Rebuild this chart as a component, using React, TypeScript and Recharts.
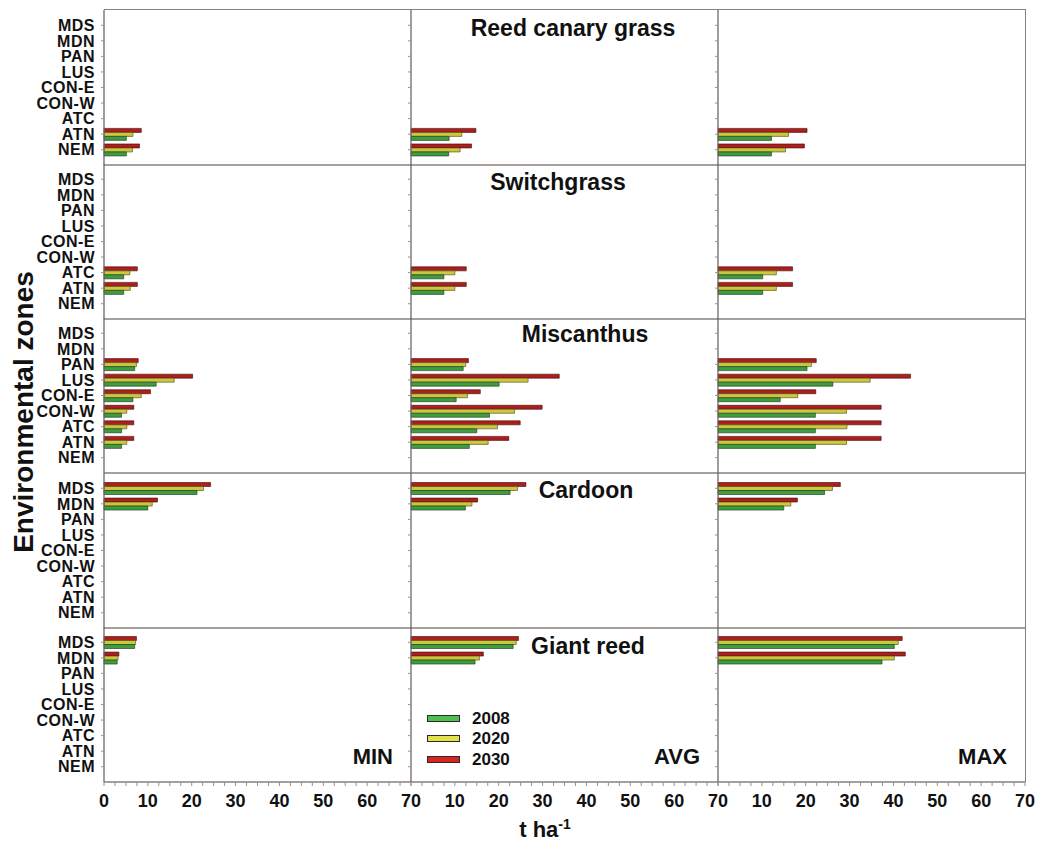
import React from 'react';
import { BarChart, Bar, XAxis, YAxis } from 'recharts';

// ---------- categories & labels ----------
const zones = ['MDS', 'MDN', 'PAN', 'LUS', 'CON-E', 'CON-W', 'ATC', 'ATN', 'NEM'];
const years = ['2008', '2020', '2030'];
const statLabels = ['MIN', 'AVG', 'MAX'];
const cropNames = ['Reed canary grass', 'Switchgrass', 'Miscanthus', 'Cardoon', 'Giant reed'];
const xTicks = [0, 2.5, 5, 7.5, 10, 12.5, 15, 17.5, 20, 22.5, 25, 27.5, 30, 32.5, 35, 37.5, 40, 42.5, 45, 47.5, 50, 52.5, 55, 57.5, 60, 62.5, 65, 67.5, 70];
const xLabelTicks = [0, 10, 20, 30, 40, 50, 60, 70];

// ---------- Reed canary grass ----------
const reedZones = ['ATN', 'NEM'];
const reedMin2008 = [5.1, 5.1];
const reedMin2020 = [6.6, 6.5];
const reedMin2030 = [8.5, 8.1];
const reedAvg2008 = [8.7, 8.6];
const reedAvg2020 = [11.6, 11.2];
const reedAvg2030 = [14.8, 13.8];
const reedMax2008 = [12.2, 12.2];
const reedMax2020 = [16.1, 15.4];
const reedMax2030 = [20.3, 19.7];

// ---------- Switchgrass ----------
const switchZones = ['ATC', 'ATN'];
const switchMin2008 = [4.5, 4.5];
const switchMin2020 = [5.9, 6.0];
const switchMin2030 = [7.6, 7.6];
const switchAvg2008 = [7.5, 7.5];
const switchAvg2020 = [10.0, 10.0];
const switchAvg2030 = [12.6, 12.6];
const switchMax2008 = [10.2, 10.2];
const switchMax2020 = [13.3, 13.3];
const switchMax2030 = [17.0, 17.0];

// ---------- Miscanthus ----------
const miscZones = ['PAN', 'LUS', 'CON-E', 'CON-W', 'ATC', 'ATN'];
const miscMin2008 = [7.0, 11.9, 6.6, 4.0, 4.0, 4.0];
const miscMin2020 = [7.4, 16.0, 8.5, 5.2, 5.2, 5.2];
const miscMin2030 = [7.8, 20.2, 10.6, 6.8, 6.8, 6.8];
const miscAvg2008 = [11.9, 20.1, 10.3, 17.9, 15.0, 13.3];
const miscAvg2020 = [12.5, 26.7, 12.9, 23.6, 19.7, 17.6];
const miscAvg2030 = [13.1, 33.8, 15.8, 29.9, 24.9, 22.3];
const miscMax2008 = [20.3, 26.2, 14.2, 22.2, 22.2, 22.2];
const miscMax2020 = [21.3, 34.7, 18.2, 29.3, 29.4, 29.3];
const miscMax2030 = [22.4, 43.9, 22.3, 37.2, 37.2, 37.2];

// ---------- Cardoon ----------
const cardZones = ['MDS', 'MDN'];
const cardMin2008 = [21.2, 10.0];
const cardMin2020 = [22.7, 11.0];
const cardMin2030 = [24.3, 12.2];
const cardAvg2008 = [22.6, 12.4];
const cardAvg2020 = [24.3, 13.9];
const cardAvg2030 = [26.2, 15.2];
const cardMax2008 = [24.3, 15.0];
const cardMax2020 = [26.1, 16.6];
const cardMax2030 = [27.9, 18.1];

// ---------- Giant reed ----------
const giantZones = ['MDS', 'MDN'];
const giantMin2008 = [7.0, 3.0];
const giantMin2020 = [7.2, 3.2];
const giantMin2030 = [7.4, 3.4];
const giantAvg2008 = [23.3, 14.6];
const giantAvg2020 = [24.0, 15.6];
const giantAvg2030 = [24.5, 16.5];
const giantMax2008 = [40.2, 37.4];
const giantMax2020 = [41.1, 40.2];
const giantMax2030 = [42.0, 42.7];

const cropTable = [
  { zones: reedZones, stats: [[reedMin2008, reedMin2020, reedMin2030], [reedAvg2008, reedAvg2020, reedAvg2030], [reedMax2008, reedMax2020, reedMax2030]] },
  { zones: switchZones, stats: [[switchMin2008, switchMin2020, switchMin2030], [switchAvg2008, switchAvg2020, switchAvg2030], [switchMax2008, switchMax2020, switchMax2030]] },
  { zones: miscZones, stats: [[miscMin2008, miscMin2020, miscMin2030], [miscAvg2008, miscAvg2020, miscAvg2030], [miscMax2008, miscMax2020, miscMax2030]] },
  { zones: cardZones, stats: [[cardMin2008, cardMin2020, cardMin2030], [cardAvg2008, cardAvg2020, cardAvg2030], [cardMax2008, cardMax2020, cardMax2030]] },
  { zones: giantZones, stats: [[giantMin2008, giantMin2020, giantMin2030], [giantAvg2008, giantAvg2020, giantAvg2030], [giantMax2008, giantMax2020, giantMax2030]] },
];

function buildRows(cropZones: string[], series: number[][]) {
  return zones.map((z) => {
    const i = cropZones.indexOf(z);
    const row: any = { zone: z };
    years.forEach((y, k) => {
      row['y' + y] = i >= 0 ? series[k][i] : null;
    });
    return row;
  });
}

// ---------- styling ----------
const FONT = '"Liberation Sans", Arial, Helvetica, sans-serif';
const barFill: Record<string, string> = { '2008': '#3f9d3f', '2020': '#cdc63f', '2030': '#ad1f1d' };
const barStroke: Record<string, string> = { '2008': '#173617', '2020': '#4a4714', '2030': '#3a0a0a' };
const legendFill: Record<string, string> = { '2008': '#4fc04f', '2020': '#e2e248', '2030': '#d6261f' };
const frameColor = '#8a7e7e';

const colX = [104, 411, 718];
const rowY = [10, 164, 318, 473, 627];
const plotW = 307;
const plotH = 155;

const titlePos = [
  { x: 573, y: 28 },
  { x: 558, y: 182 },
  { x: 585, y: 334 },
  { x: 586, y: 490 },
  { x: 588, y: 646 },
];

function Panel({ row, col }: { row: number; col: number }) {
  const crop = cropTable[row];
  const data = buildRows(crop.zones, crop.stats[col]);
  const isFirst = col === 0;
  const isBottom = row === 4;
  const yW = isFirst ? 104 : 10;
  const xH = isBottom ? 46 : 2;
  const rightPad = isBottom ? 14 : 0;
  const left = colX[col] - yW;
  const w = yW + plotW + rightPad;
  const h = plotH + xH;
  return (
    <div style={{ position: 'absolute', left, top: rowY[row] }}>
      <BarChart
        width={w}
        height={h}
        data={data}
        layout="vertical"
        margin={{ top: 0, right: rightPad, bottom: 0, left: 0 }}
        barGap={0}
        barCategoryGap={2}
      >
        <XAxis
          type="number"
          domain={[0, 70]}
          ticks={isBottom ? xTicks : xLabelTicks}
          interval={0}
          height={xH}
          axisLine={{ stroke: frameColor, strokeWidth: 1.5 }}
          tickLine={isBottom ? { stroke: '#9a9090' } : false}
          tickSize={4}
          tickMargin={8}
          tick={isBottom ? { fontSize: 18, fontWeight: 700, fill: '#111', fontFamily: FONT } : false}
          tickFormatter={(v: number) =>
            v % 10 === 0 && !(col > 0 && v === 0) ? String(v) : ''
          }
        />
        <YAxis
          type="category"
          dataKey="zone"
          width={yW}
          interval={0}
          padding={{ top: 7.5, bottom: 7.5 }}
          axisLine={{ stroke: '#6f6868', strokeWidth: 1.3 }}
          tickLine={{ stroke: '#9a9090' }}
          tickSize={3}
          tickMargin={6}
          tick={{ fontSize: 16, fontWeight: 700, fill: '#111', fontFamily: FONT, letterSpacing: 0.5 }}
          tickFormatter={(v: string) => (isFirst ? v : '')}
        />
        {['2030', '2020', '2008'].map((y) => (
          <Bar
            key={y}
            dataKey={'y' + y}
            fill={barFill[y]}
            stroke={barStroke[y]}
            strokeWidth={0.6}
            barSize={4}
            isAnimationActive={false}
          />
        ))}
      </BarChart>
    </div>
  );
}

const boldText: React.CSSProperties = {
  position: 'absolute',
  fontFamily: FONT,
  fontWeight: 700,
  color: '#111',
  whiteSpace: 'nowrap',
  lineHeight: 1,
};

export default function App() {
  return (
    <div
      style={{
        position: 'absolute',
        left: 0,
        top: 0,
        width: 1042,
        height: 846,
        background: '#fff',
        overflow: 'hidden',
        fontFamily: FONT,
      }}
    >
      {cropNames.map((_, r) =>
        statLabels.map((__, c) => <Panel key={r + '-' + c} row={r} col={c} />)
      )}

      {/* outer top and right frame */}
      <div
        style={{
          position: 'absolute',
          left: colX[0],
          top: rowY[0] - 1,
          width: colX[2] + plotW - colX[0] + 1,
          height: rowY[4] + plotH - rowY[0] + 1,
          borderTop: `1.5px solid ${frameColor}`,
          borderRight: `1.5px solid ${frameColor}`,
          boxSizing: 'border-box',
        }}
      />

      {/* crop titles */}
      {cropNames.map((name, r) => (
        <div
          key={name}
          style={{
            ...boldText,
            fontSize: 23,
            left: titlePos[r].x,
            top: titlePos[r].y,
            transform: 'translate(-50%, -50%)',
          }}
        >
          {name}
        </div>
      ))}

      {/* MIN / AVG / MAX labels */}
      {statLabels.map((s, c) => (
        <div
          key={s}
          style={{
            ...boldText,
            fontSize: 22,
            left: colX[c] + plotW - 18,
            top: 757,
            transform: 'translate(-100%, -50%)',
          }}
        >
          {s}
        </div>
      ))}

      {/* legend */}
      {years.map((y, k) => (
        <div key={y} style={{ position: 'absolute', left: 427, top: 718 + k * 20.5 - 9, height: 18, display: 'flex', alignItems: 'center' }}>
          <div
            style={{
              width: 33,
              height: 7,
              background: legendFill[y],
              border: '1px solid #2a2a2a',
              boxSizing: 'border-box',
            }}
          />
          <div style={{ ...boldText, position: 'static', fontSize: 17, marginLeft: 12 }}>{y}</div>
        </div>
      ))}

      {/* axis titles */}
      <div
        style={{
          ...boldText,
          fontSize: 22,
          left: 545,
          top: 830,
          transform: 'translate(-50%, -50%)',
        }}
      >
        t ha<sup style={{ fontSize: 14, verticalAlign: 'super', lineHeight: 0 }}>-1</sup>
      </div>
      <div
        style={{
          ...boldText,
          fontSize: 28,
          left: 24,
          top: 412,
          transform: 'translate(-50%, -50%) rotate(-90deg)',
        }}
      >
        Environmental zones
      </div>
    </div>
  );
}
